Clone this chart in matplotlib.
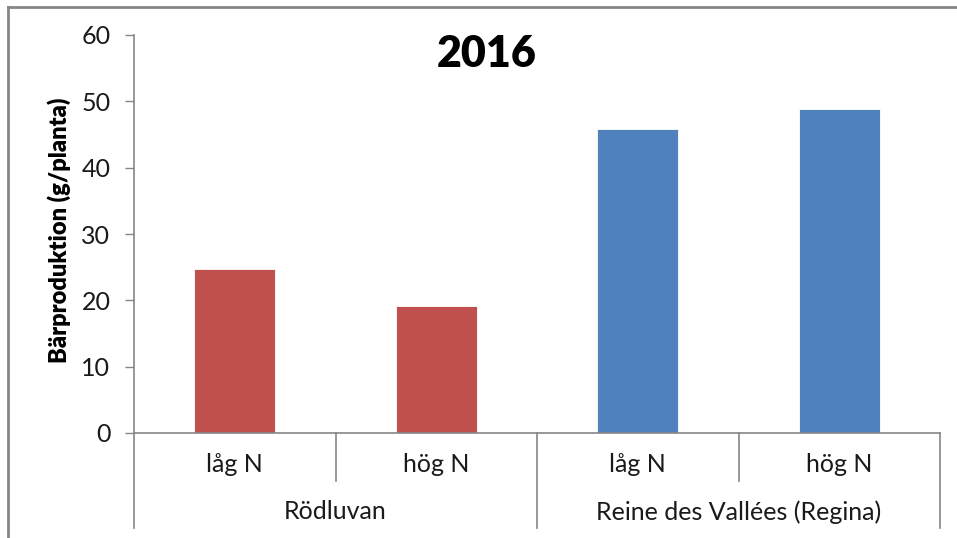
import matplotlib
matplotlib.use("Agg")
import matplotlib.pyplot as plt
from matplotlib.lines import Line2D

categories = ["låg N", "hög N", "låg N", "hög N"]
groups = ["Rödluvan", "Reine des Vallées (Regina)"]
values = [24.7, 19.1, 45.8, 48.8]
colors = ["#C0504D", "#C0504D", "#4F81BD", "#4F81BD"]
title = "2016"
ylabel = "Bärproduktion (g/planta)"
yticks = [0, 10, 20, 30, 40, 50, 60]

plt.rcParams['font.family'] = ['Lato', 'DejaVu Sans']
W, H = 957, 538
fig = plt.figure(figsize=(W / 100, H / 100), dpi=100)
ax = fig.add_axes([134 / W, 1 - 433 / H, (940 - 134) / W, (433 - 35) / H])

grey = "#868686"
tc = "#1a1a1a"
x = list(range(len(values)))
ax.bar(x, values, width=0.4, color=colors, edgecolor="white", linewidth=0.6, zorder=2)
ax.set_xlim(-0.5, len(values) - 0.5)
ax.set_ylim(0, 60)
ax.set_yticks(yticks)
ax.set_yticklabels([str(t) for t in yticks], fontsize=18, color=tc)
ax.tick_params(axis="y", length=6.5, width=1, color=grey, pad=10.5)
ax.set_xticks([])
for s in ["top", "right"]:
    ax.spines[s].set_visible(False)
for s in ["left", "bottom"]:
    ax.spines[s].set_color(grey)
    ax.spines[s].set_linewidth(1.2)

tr = ax.get_xaxis_transform()
# separators under the axis
for xs, long_ in [(-0.5, True), (0.5, False), (1.5, True), (2.5, False), (3.5, True)]:
    y2 = -0.239 if long_ else -0.121
    ax.plot([xs, xs], [0, y2], transform=tr, color=grey, lw=1.2, clip_on=False)
for xi, c in zip(x, categories):
    ax.text(xi, -0.080, c, transform=tr, ha="center", va="center", fontsize=18, color=tc)
for gi, g in enumerate(groups):
    ax.text(gi * 2 + 0.5, -0.198, g, transform=tr, ha="center", va="center", fontsize=18, color=tc)

ax.set_ylabel(ylabel, fontsize=17, fontweight="heavy")
ax.yaxis.set_label_coords((71 - 134) / (940 - 134), 0.51)

fig.text(487 / W, 1 - 54 / H, title, ha="center", va="center", fontsize=31, fontweight="heavy")

# outer chart frame (cropped on right and bottom)
fig.add_artist(Line2D([8 / W, 8 / W], [0, 1 - 7 / H], color=grey, lw=2, transform=fig.transFigure))
fig.add_artist(Line2D([8 / W, 1], [1 - 7 / H, 1 - 7 / H], color=grey, lw=2, transform=fig.transFigure))

fig.savefig("out.png", dpi=100)
